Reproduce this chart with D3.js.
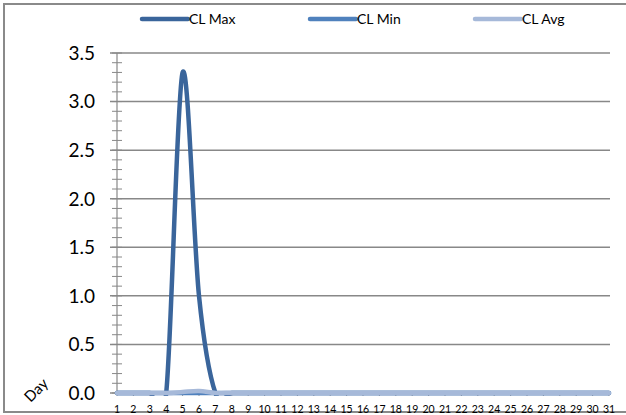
<!DOCTYPE html>
<html><head><meta charset="utf-8">
<script src="https://cdn.jsdelivr.net/npm/d3@7"></script>
<style>html,body{margin:0;padding:0;background:#fff;overflow:hidden}</style>
</head><body>
<script>
const days = d3.range(1, 32);
const clMax = [0,0,0,0,3.3,1.0,0,0,0,0,0,0,0,0,0,0,0,0,0,0,0,0,0,0,0,0,0,0,0,0,0];
const clMin = [0,0,0,0,0,0,0,0,0,0,0,0,0,0,0,0,0,0,0,0,0,0,0,0,0,0,0,0,0,0,0];
const clAvg = [0,0,0,0,0.01,0.02,0,0,0,0,0,0,0,0,0,0,0,0,0,0,0,0,0,0,0,0,0,0,0,0,0];
const yTicks = [0,0.5,1.0,1.5,2.0,2.5,3.0,3.5];
const seriesNames = ["CL Max","CL Min","CL Avg"];
const colors = ["#3A659B","#4F81BD","#A6B9D9"];
const seriesData = [clMax, clMin, clAvg];

const W = 626, H = 415;
const svg = d3.select("body").append("svg").attr("width", W).attr("height", H);
const font = "Lato, 'Open Sans', sans-serif";

svg.append("rect").attr("x",4).attr("y",4).attr("width",W+10).attr("height",408)
  .attr("fill","none").attr("stroke","#8a8a8a").attr("stroke-width",2);

const x = d3.scaleLinear().domain([1,31]).range([117,609]);
const y = d3.scaleLinear().domain([0,3.5]).range([393,53]);

svg.append("g").selectAll("line").data(yTicks.filter(d=>d>0)).join("line")
  .attr("x1",110).attr("x2",610).attr("y1",d=>y(d)).attr("y2",d=>y(d))
  .attr("stroke","#888").attr("stroke-width",1.5);

svg.append("line").attr("x1",117).attr("x2",117).attr("y1",y(3.5)).attr("y2",y(0))
  .attr("stroke","#888").attr("stroke-width",1.2);
const minor = d3.range(0,36).map(i=>i/10);
svg.append("g").selectAll("line").data(minor).join("line")
  .attr("x1",112).attr("x2",122).attr("y1",d=>y(d)).attr("y2",d=>y(d))
  .attr("stroke","#888").attr("stroke-width",1);
svg.append("line").attr("x1",110).attr("x2",610).attr("y1",y(0)).attr("y2",y(0))
  .attr("stroke","#888").attr("stroke-width",1.5);
svg.append("g").selectAll("line").data(days).join("line")
  .attr("x1",d=>x(d)).attr("x2",d=>x(d)).attr("y1",y(0)).attr("y2",y(0)+3)
  .attr("stroke","#999").attr("stroke-width",1);

svg.append("g").selectAll("text").data(yTicks).join("text")
  .attr("x",95).attr("y",d=>y(d)).attr("dy","0.36em").attr("text-anchor","end")
  .attr("font-family",font).attr("font-size",19).attr("fill","#000")
  .text(d=>d.toFixed(1));

svg.append("g").selectAll("text").data(days).join("text")
  .attr("x",d=>x(d)).attr("y",409).attr("dy","0.36em").attr("text-anchor","middle")
  .attr("font-family",font).attr("font-size",10.5).attr("fill","#000")
  .text(d=>d);

svg.append("text").attr("transform","translate(36,390) rotate(-45)")
  .attr("text-anchor","middle").attr("dy","0.36em")
  .attr("font-family",font).attr("font-size",15).attr("fill","#000").text("Day");

svg.append("defs").append("clipPath").attr("id","clip").append("rect")
  .attr("x",105).attr("y",40).attr("width",515).attr("height",356);

const line = d3.line().x((d,i)=>x(days[i])).y(d=>y(d)).curve(d3.curveCatmullRom.alpha(0));
const g = svg.append("g").attr("clip-path","url(#clip)");
seriesData.forEach((s,k)=>{
  g.append("path").datum(s).attr("d",line).attr("fill","none")
    .attr("stroke",colors[k]).attr("stroke-width",4.5).attr("stroke-linejoin","round").attr("stroke-linecap","round");
});

const legX = [142,310,475];
seriesNames.forEach((n,k)=>{
  svg.append("line").attr("x1",legX[k]).attr("x2",legX[k]+46).attr("y1",19).attr("y2",19)
    .attr("stroke",colors[k]).attr("stroke-width",4.5).attr("stroke-linecap","round");
  svg.append("text").attr("x",legX[k]+47).attr("y",19).attr("dy","0.36em")
    .attr("font-family",font).attr("font-size",14).attr("fill","#000").text(n);
});
</script>
</body></html>
